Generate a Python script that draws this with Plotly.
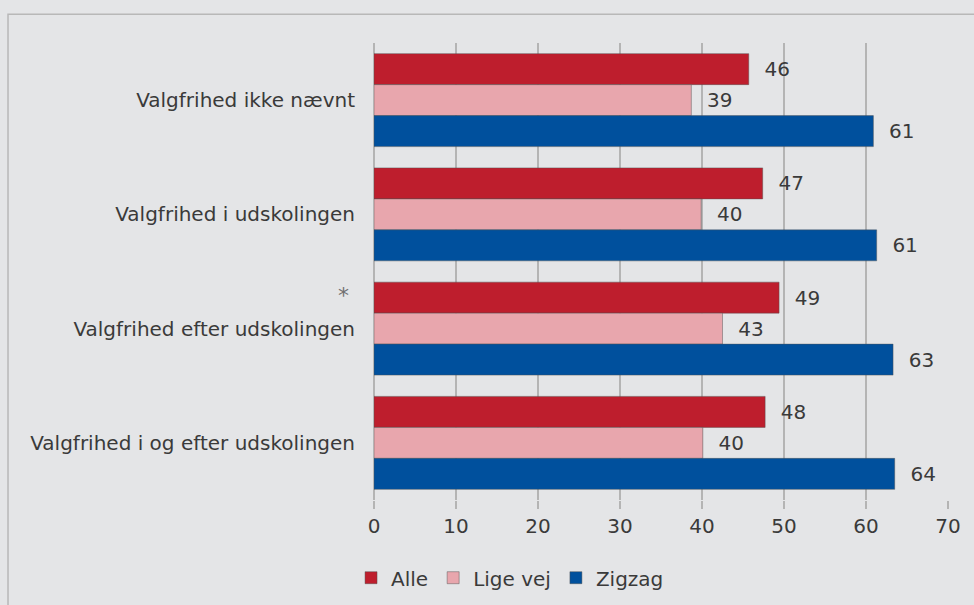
import plotly.graph_objects as go

categories = [
    "Valgfrihed ikke nævnt",
    "Valgfrihed i udskolingen",
    "Valgfrihed efter udskolingen",
    "Valgfrihed i og efter udskolingen",
]
series_names = ["Alle", "Lige vej", "Zigzag"]
alle = [45.7, 47.4, 49.4, 47.7]
lige_vej = [38.7, 39.9, 42.5, 40.1]
zigzag = [60.9, 61.3, 63.3, 63.5]
alle_labels = ["46", "47", "49", "48"]
lige_labels = ["39", "40", "43", "40"]
zigzag_labels = ["61", "61", "63", "64"]
x_ticks = [0, 10, 20, 30, 40, 50, 60, 70]
marked_category = "Valgfrihed efter udskolingen"

colors = ["#be1e2d", "#e8a6ad", "#00509d"]
values = [alle, lige_vej, zigzag]
labels = [alle_labels, lige_labels, zigzag_labels]

FONT = "DejaVu Sans"
TXT = "#3a3a3a"
GRID = "#b4b4b4"
BG = "#e4e5e7"
NB = "\u00a0\u00a0"
FS = 20

fig = go.Figure()
for name, vals, labs, col in zip(series_names, values, labels, colors):
    fig.add_trace(go.Bar(
        name=name,
        y=categories,
        x=vals,
        orientation="h",
        marker=dict(color=col, line=dict(color="rgba(80,80,80,0.45)", width=1)),
        text=[NB + t for t in labs],
        textposition="outside",
        textfont=dict(family=FONT, size=FS, color=TXT),
        cliponaxis=False,
    ))

fig.add_annotation(
    x=0, xref="paper", y=marked_category, yref="y",
    text="*", showarrow=False, xanchor="right", yanchor="middle",
    xshift=-23, yshift=33,
    font=dict(family=FONT, size=22, color="#707070"),
)

fig.add_shape(
    type="rect", xref="paper", yref="paper",
    x0=-0.6376, x1=1.2, y0=-0.5, y1=1.063,
    line=dict(color="#b8b8b8", width=1.5), fillcolor="rgba(0,0,0,0)", layer="below",
)

fig.update_layout(
    width=974, height=605,
    margin=dict(l=374, r=26, t=43, b=105, autoexpand=False),
    paper_bgcolor=BG, plot_bgcolor=BG,
    barmode="group", bargap=0.186, bargroupgap=0,
    font=dict(family=FONT, size=FS, color=TXT),
    showlegend=True,
    legend=dict(
        orientation="h", x=-0.04, xanchor="left", y=-0.17, yanchor="middle",
        font=dict(family=FONT, size=FS, color=TXT),
        itemwidth=30, traceorder="normal", bgcolor="rgba(0,0,0,0)",
    ),
    xaxis=dict(
        range=[0, 70], tickvals=x_ticks, ticktext=[str(v) for v in x_ticks],
        showgrid=True, gridcolor=GRID, gridwidth=2,
        zeroline=True, zerolinecolor=GRID, zerolinewidth=2,
        ticks="outside", ticklen=8, tickwidth=2, tickcolor=GRID,
        ticklabelstandoff=0,
        showline=False, tickfont=dict(family=FONT, size=FS, color=TXT),
    ),
    yaxis=dict(
        autorange="reversed", showgrid=False, zeroline=False, showline=False,
        ticks="", ticklabelstandoff=18,
        tickfont=dict(family=FONT, size=FS, color=TXT),
    ),
)

fig.write_html(
    "out.html",
    config={"displayModeBar": False},
    post_script="document.body.style.margin='0';document.body.style.overflow='hidden';",
)
